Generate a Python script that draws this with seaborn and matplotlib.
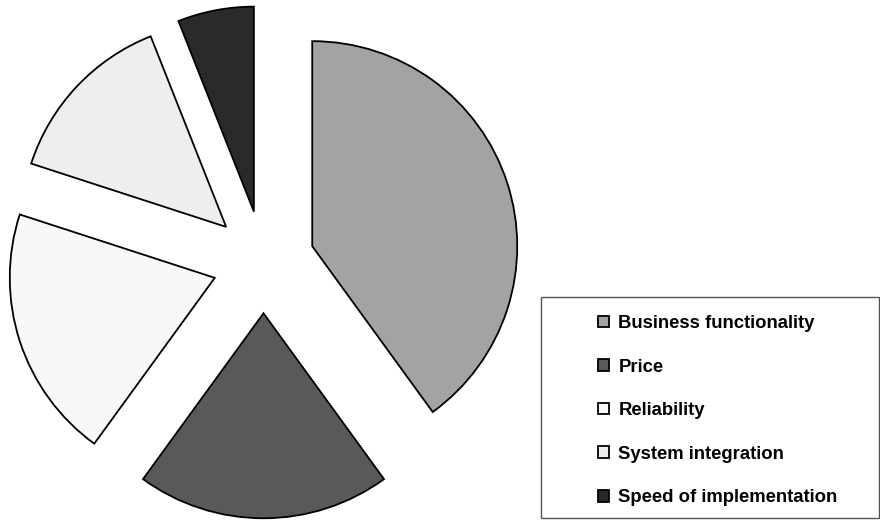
import matplotlib
matplotlib.use("Agg")
import matplotlib.pyplot as plt
from matplotlib.patches import Rectangle
import seaborn as sns

# Data (share of respondents, %)
factors = ["Business functionality", "Price", "Reliability",
           "System integration", "Speed of implementation"]
shares = [40, 20, 20, 14, 6]

# Grey shades per slice
colors = ["#a3a3a3", "#595959", "#f8f8f8", "#eeeeee", "#2a2a2a"]

sns.set_theme(style="white")
plt.rcParams["font.family"] = ["Liberation Sans", "DejaVu Sans"]
plt.rcParams["text.color"] = "black"

fig = plt.figure(figsize=(8.8, 5.23), dpi=100)
ax = fig.add_axes([0, 0, 1, 1])

radius = 205
wedges, _ = ax.pie(
    shares,
    colors=colors,
    explode=[0.25 * radius] * len(shares),  # pie explode is in data units
    startangle=90,
    counterclock=False,
    center=(263.5, 261),
    radius=radius,
    wedgeprops={"edgecolor": "black", "linewidth": 1.3},
    frame=True,
)
ax.set_xlim(0, 880)
ax.set_ylim(0, 523)
ax.set_aspect("equal")
ax.axis("off")

# Legend box
ax.add_patch(Rectangle((541, 5), 338, 221, facecolor="white",
                       edgecolor="#555555", linewidth=1.0))

ax.legend(
    wedges, factors,
    loc="upper left",
    bbox_to_anchor=(598, 523 - 315),
    bbox_transform=ax.transData,
    frameon=False,
    prop={"weight": "bold", "size": 13.3},
    labelcolor="black",
    handlelength=0.62,
    handleheight=0.62,
    handletextpad=0.48,
    labelspacing=1.435,
    borderpad=0,
    borderaxespad=0,
)

fig.savefig("out.png", dpi=100)
